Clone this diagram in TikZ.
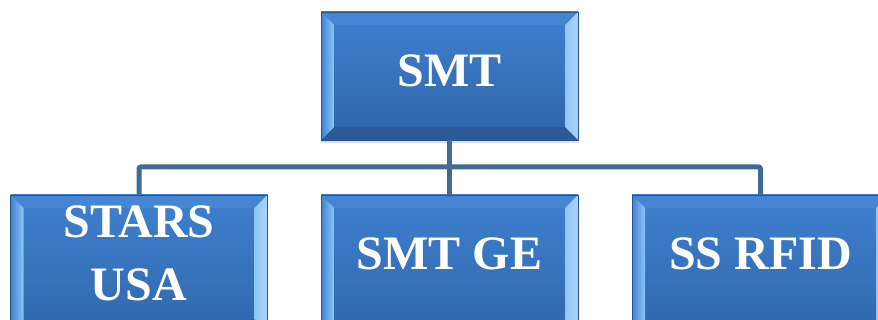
\documentclass[tikz,border=0pt]{standalone}
\usepackage{fontspec}
\setmainfont{Liberation Serif}
\usetikzlibrary{shadows}
\definecolor{facetop}{HTML}{3F80CF}
\definecolor{facebot}{HTML}{2F65A8}
\definecolor{boxedge}{HTML}{2A5288}
\definecolor{bevtop}{HTML}{4585D2}
\definecolor{bevbot}{HTML}{2C5A96}
\definecolor{bevleft}{HTML}{8CC6F6}
\definecolor{bevright}{HTML}{A6D6FA}
\definecolor{linkblue}{HTML}{41699A}

\tikzset{
bevelbox/.style={minimum width=257pt, minimum height=128pt, inner sep=0pt,
  draw=boxedge, line width=0.6pt, top color=facetop, bottom color=facebot,
  text=white, align=center, font=\fontsize{48}{63}\selectfont\bfseries,
  text height=32pt, text depth=10pt,
  drop shadow={opacity=0.25, shadow xshift=0pt, shadow yshift=-3pt},
  path picture={
    \fill[bevtop] (path picture bounding box.north west) -- (path picture bounding box.north east)
      -- ([shift={(-13pt,-13pt)}]path picture bounding box.north east) -- ([shift={(13pt,-13pt)}]path picture bounding box.north west) -- cycle;
    \fill[bevbot] (path picture bounding box.south west) -- (path picture bounding box.south east)
      -- ([shift={(-13pt,13pt)}]path picture bounding box.south east) -- ([shift={(13pt,13pt)}]path picture bounding box.south west) -- cycle;
    \shade[left color=facetop, right color=bevleft] (path picture bounding box.north west) -- ([shift={(13pt,-13pt)}]path picture bounding box.north west)
      -- ([shift={(13pt,13pt)}]path picture bounding box.south west) -- (path picture bounding box.south west) -- cycle;
    \shade[left color=bevright!80!facetop, right color=bevright] (path picture bounding box.north east) -- ([shift={(-13pt,-13pt)}]path picture bounding box.north east)
      -- ([shift={(-13pt,13pt)}]path picture bounding box.south east) -- (path picture bounding box.south east) -- cycle;
  }},
lowbox/.style={bevelbox, minimum height=150pt, text depth=32pt},
link/.style={draw=linkblue, line width=5pt, rounded corners=2pt}
}

\begin{document}
\begin{tikzpicture}[x=1pt,y=1pt]
\useasboundingbox (0,0) rectangle (878,-320);
\clip (0,0) rectangle (878,-320);
\node [bevelbox] (smt) at (449.5,-76) {SMT};
\node [lowbox, text height=95pt, text depth=33pt] (stars) at (139,-270) {STARS\\USA};
\node [lowbox] (smtge) at (449.5,-270) {SMT GE};
\node [lowbox] (ssrfid) at (760.5,-270) {SS RFID};
\coordinate (bar) at (449.5,-167);
\draw [link] (smt.south) -- (bar);
\draw [link] (stars.north) |- (bar) -| (ssrfid.north);
\draw [link] (bar) -- (smtge.north);
\end{tikzpicture}
\end{document}
